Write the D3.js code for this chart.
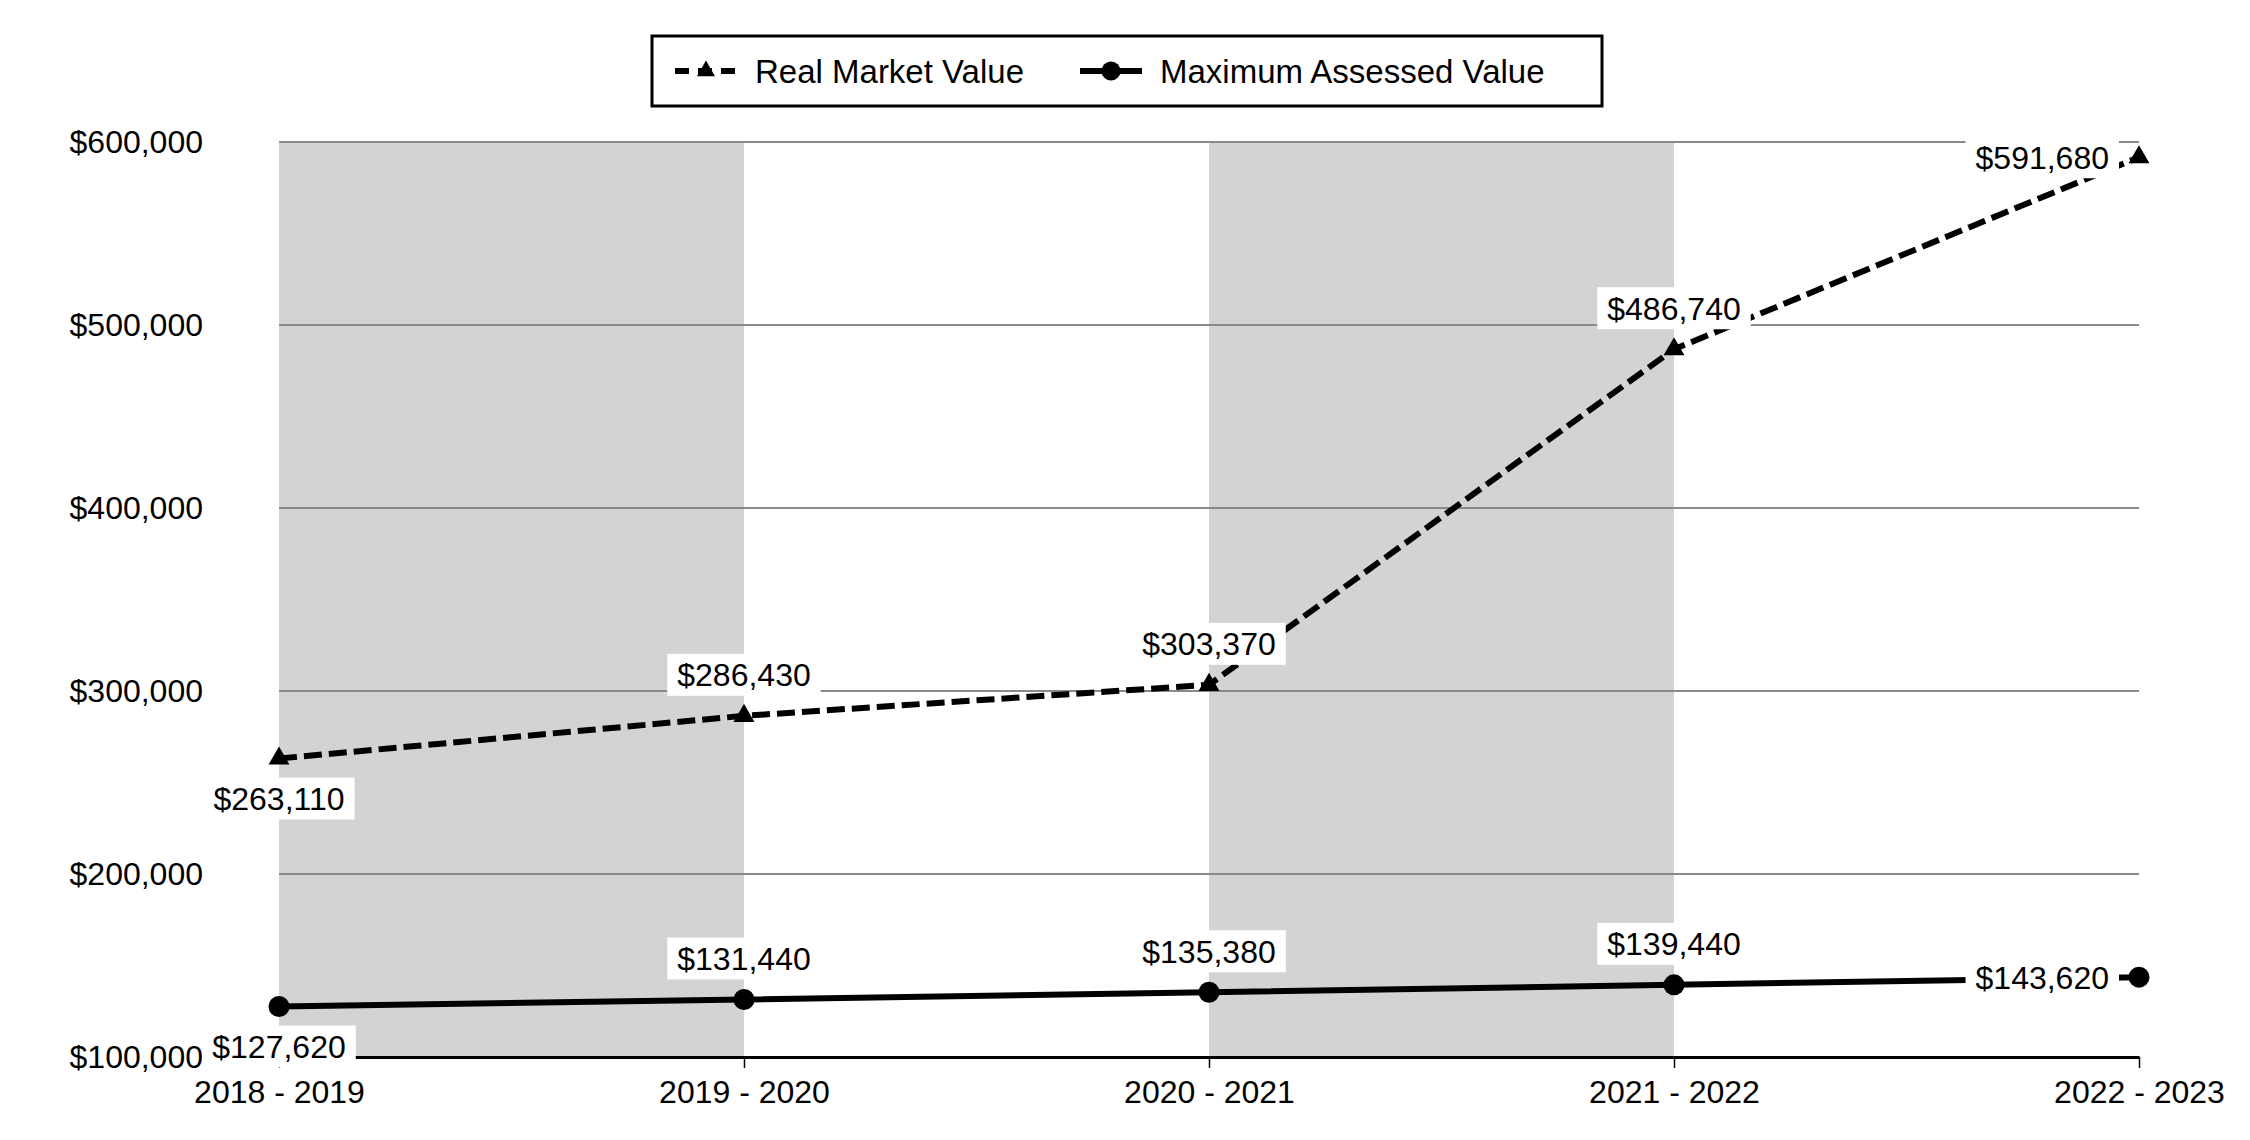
<!DOCTYPE html>
<html lang="en">
<head>
<meta charset="utf-8">
<title>Real Market Value vs Maximum Assessed Value</title>
<script src="https://d3js.org/d3.v7.min.js"></script>
<style>
  body { margin: 0; background: #fff; }
  svg text { font-family: "Liberation Sans", Arial, sans-serif; fill: #000; }
  .axis text { font-size: 32px; }
  .axis path, .axis line { stroke: #000; }
</style>
</head>
<body>
<script>
var years = ["2018 - 2019", "2019 - 2020", "2020 - 2021", "2021 - 2022", "2022 - 2023"];
var realMarket = [263110, 286430, 303370, 486740, 591680];
var maxAssessed = [127620, 131440, 135380, 139440, 143620];
var yTicks = [100000, 200000, 300000, 400000, 500000, 600000];
// where each value label sits relative to its point
var rmvPlace = ["below", "above", "above", "above", "left"];
var mavPlace = ["below", "above", "above", "above", "left"];
// shaded bands run from one year to the next
var bands = [[0, 1], [2, 3]];

var w = 2250, h = 1140;
var plotLeft = 279, plotRight = 2139, plotTop = 142, plotBottom = 1057;
var fs = 32;

var svg = d3.select("body").append("svg")
  .attr("width", w).attr("height", h);

var x = d3.scalePoint().domain(years).range([plotLeft, plotRight]);
var y = d3.scaleLinear().domain([100000, 600000]).range([plotBottom, plotTop]);
var fmt = d3.format("$,");

// grey bands
svg.selectAll("rect.band")
  .data(bands)
  .enter().append("rect")
  .attr("class", "band")
  .attr("x", function(d) { return x(years[d[0]]); })
  .attr("width", function(d) { return x(years[d[1]]) - x(years[d[0]]); })
  .attr("y", plotTop)
  .attr("height", plotBottom - plotTop)
  .attr("fill", "#d3d3d3");

// grid lines
svg.append("g")
  .selectAll("line")
  .data(yTicks.slice(1))
  .enter().append("line")
  .attr("x1", plotLeft).attr("x2", plotRight)
  .attr("y1", function(d) { return y(d); })
  .attr("y2", function(d) { return y(d); })
  .attr("stroke", "#8a8a8a")
  .attr("stroke-width", 2);

// y axis labels
var yAxis = d3.axisLeft(y).tickValues(yTicks).tickFormat(fmt).tickSize(0).tickPadding(76);
var gy = svg.append("g").attr("class", "axis")
  .attr("transform", "translate(" + plotLeft + ",0)")
  .call(yAxis);
gy.select(".domain").remove();

// x axis
var xAxis = d3.axisBottom(x).tickSize(11).tickPadding(12).tickSizeOuter(0);
var gx = svg.append("g").attr("class", "axis")
  .attr("transform", "translate(0," + plotBottom + ")")
  .call(xAxis);
gx.select(".domain").attr("stroke-width", 3);
gx.selectAll(".tick line").attr("stroke-width", 1.5);

var line = d3.line()
  .x(function(d, i) { return x(years[i]); })
  .y(function(d) { return y(d); });

svg.append("path")
  .datum(realMarket)
  .attr("d", line)
  .attr("fill", "none")
  .attr("stroke", "#000")
  .attr("stroke-width", 6)
  .attr("stroke-dasharray", "18,7");

svg.append("path")
  .datum(maxAssessed)
  .attr("d", line)
  .attr("fill", "none")
  .attr("stroke", "#000")
  .attr("stroke-width", 6);

var tri = d3.symbol(d3.symbolTriangle, 190);

svg.selectAll("path.rmv")
  .data(realMarket)
  .enter().append("path")
  .attr("class", "rmv")
  .attr("d", tri)
  .attr("transform", function(d, i) { return "translate(" + x(years[i]) + "," + y(d) + ")"; })
  .attr("fill", "#000");

svg.selectAll("circle.mav")
  .data(maxAssessed)
  .enter().append("circle")
  .attr("class", "mav")
  .attr("cx", function(d, i) { return x(years[i]); })
  .attr("cy", function(d) { return y(d); })
  .attr("r", 10.5)
  .attr("fill", "#000");

function addLabels(values, places) {
  var g = svg.append("g");
  values.forEach(function(v, i) {
    var px = x(years[i]), py = y(v);
    var lx = px, ly = py, anchor = "middle";
    if (places[i] == "above") ly = py - 41;
    if (places[i] == "below") ly = py + 40;
    if (places[i] == "left") { lx = px - 30; anchor = "end"; }
    var lg = g.append("g");
    var t = lg.append("text")
      .attr("x", lx).attr("y", ly)
      .attr("dy", "0.36em")
      .attr("text-anchor", anchor)
      .style("font-size", fs + "px")
      .text(fmt(v));
    var b = t.node().getBBox();
    lg.insert("rect", "text")
      .attr("x", b.x - 10).attr("y", ly - 21)
      .attr("width", b.width + 20).attr("height", 42)
      .attr("fill", "#fff");
  });
}
addLabels(realMarket, rmvPlace);
addLabels(maxAssessed, mavPlace);

// legend
var lg = svg.append("g");
lg.append("rect")
  .attr("x", 652).attr("y", 36)
  .attr("width", 950).attr("height", 70)
  .attr("fill", "#fff")
  .attr("stroke", "#000")
  .attr("stroke-width", 3);

var legendItems = [
  { name: "Real Market Value", dash: "14,9,14,9,14", mark: "tri", x0: 675 },
  { name: "Maximum Assessed Value", dash: null, mark: "circle", x0: 1080 }
];
legendItems.forEach(function(d) {
  lg.append("line")
    .attr("x1", d.x0).attr("x2", d.x0 + 62)
    .attr("y1", 71).attr("y2", 71)
    .attr("stroke", "#000")
    .attr("stroke-width", 6)
    .attr("stroke-dasharray", d.dash);
  if (d.mark == "tri") {
    lg.append("path")
      .attr("d", d3.symbol(d3.symbolTriangle, 140)())
      .attr("transform", "translate(" + (d.x0 + 31) + ",71)")
      .attr("fill", "#000");
  } else {
    lg.append("circle")
      .attr("cx", d.x0 + 31).attr("cy", 71).attr("r", 9.5)
      .attr("fill", "#000");
  }
  lg.append("text")
    .attr("x", d.x0 + 80).attr("y", 71)
    .attr("dy", "0.36em")
    .style("font-size", "33px")
    .text(d.name);
});
</script>
</body>
</html>
